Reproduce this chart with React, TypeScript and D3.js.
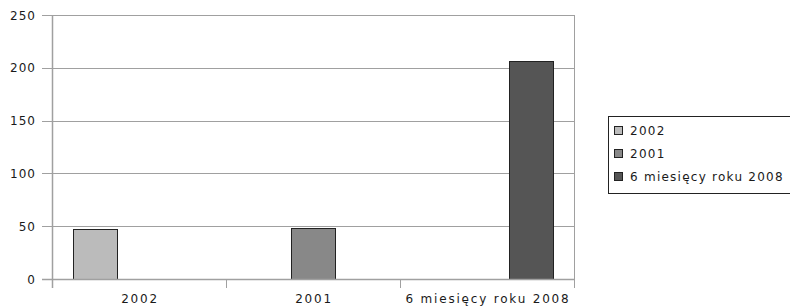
import React from "react";
import * as d3 from "d3";

const categories = ["2002", "2001", "6 miesięcy roku 2008"];
const seriesNames = ["2002", "2001", "6 miesięcy roku 2008"];
const seriesColors = ["#bbbbbb", "#888888", "#555555"];
// values[series][category]
const values2002 = [47, 0, 0];
const values2001 = [0, 48, 0];
const values2008 = [0, 0, 206];
const yTicks = [0, 50, 100, 150, 200, 250];

const allValues = [values2002, values2001, values2008];

export default function App() {
  const W = 790, H = 307;
  const left = 52, right = 574, top = 15, bottom = 279;
  const x = d3.scaleBand<string>().domain(categories).range([left, right]).paddingInner(0).paddingOuter(0);
  const inner = d3.scaleBand<string>().domain(seriesNames).range([0, x.bandwidth()]).paddingInner(0).paddingOuter(0.477);
  const y = d3.scaleLinear().domain([0, 250]).range([bottom, top]);
  const font = "'DejaVu Sans', sans-serif";
  const boundaries = [...categories.map((c) => x(c)!), right];

  return (
    <div style={{ position: "absolute", left: 0, top: 0 }}>
      <svg width={W} height={H} style={{ display: "block" }}>
        <rect x={0} y={0} width={W} height={H} fill="#fff" />
        {yTicks.map((t) => (
          <g key={t}>
            <line x1={left - 10} x2={right} y1={Math.round(y(t)) + 0.5} y2={Math.round(y(t)) + 0.5} stroke="#a0a0a0" strokeWidth={1} />
            <text x={36} y={y(t) + 4.5} textAnchor="end" fontFamily={font} fontSize={12} letterSpacing={1} fill="#1a1a1a">{t}</text>
          </g>
        ))}
        <line x1={right + 0.5} x2={right + 0.5} y1={top} y2={bottom} stroke="#a0a0a0" />
        {allValues.map((vals, si) =>
          vals.map((v, ci) =>
            v > 0 ? (
              <rect
                key={`${si}-${ci}`}
                x={Math.round(x(categories[ci])! + inner(seriesNames[si])!) + 0.5}
                y={Math.round(y(v)) + 0.5}
                width={Math.round(inner.bandwidth())}
                height={Math.round(y(0) - y(v))}
                fill={seriesColors[si]}
                stroke="#222"
                strokeWidth={1}
              />
            ) : null
          )
        )}
        <line x1={left + 0.5} x2={left + 0.5} y1={top} y2={bottom + 9} stroke="#a0a0a0" strokeWidth={1.5} />
        <line x1={left - 10} x2={right} y1={bottom + 0.5} y2={bottom + 0.5} stroke="#a0a0a0" strokeWidth={1.5} />
        {boundaries.map((b, i) => (
          <line key={i} x1={Math.round(b) + 0.5} x2={Math.round(b) + 0.5} y1={bottom} y2={bottom + 9} stroke="#a0a0a0" />
        ))}
        {categories.map((c) => (
          <text key={c} x={x(c)! + x.bandwidth() / 2 + 1} y={303} textAnchor="middle" fontFamily={font} fontSize={12} letterSpacing={1.8} fill="#1a1a1a">{c}</text>
        ))}
        <rect x={608.5} y={116.5} width={190} height={77} fill="#fff" stroke="#222" strokeWidth={1} />
        {seriesNames.map((s, i) => (
          <g key={s}>
            <rect x={614.5} y={126.5 + i * 23} width={8} height={8} fill={seriesColors[i]} stroke="#222" />
            <text x={630} y={135 + i * 23} fontFamily={font} fontSize={12} letterSpacing={1.25} fill="#1a1a1a">{s}</text>
          </g>
        ))}
      </svg>
    </div>
  );
}
